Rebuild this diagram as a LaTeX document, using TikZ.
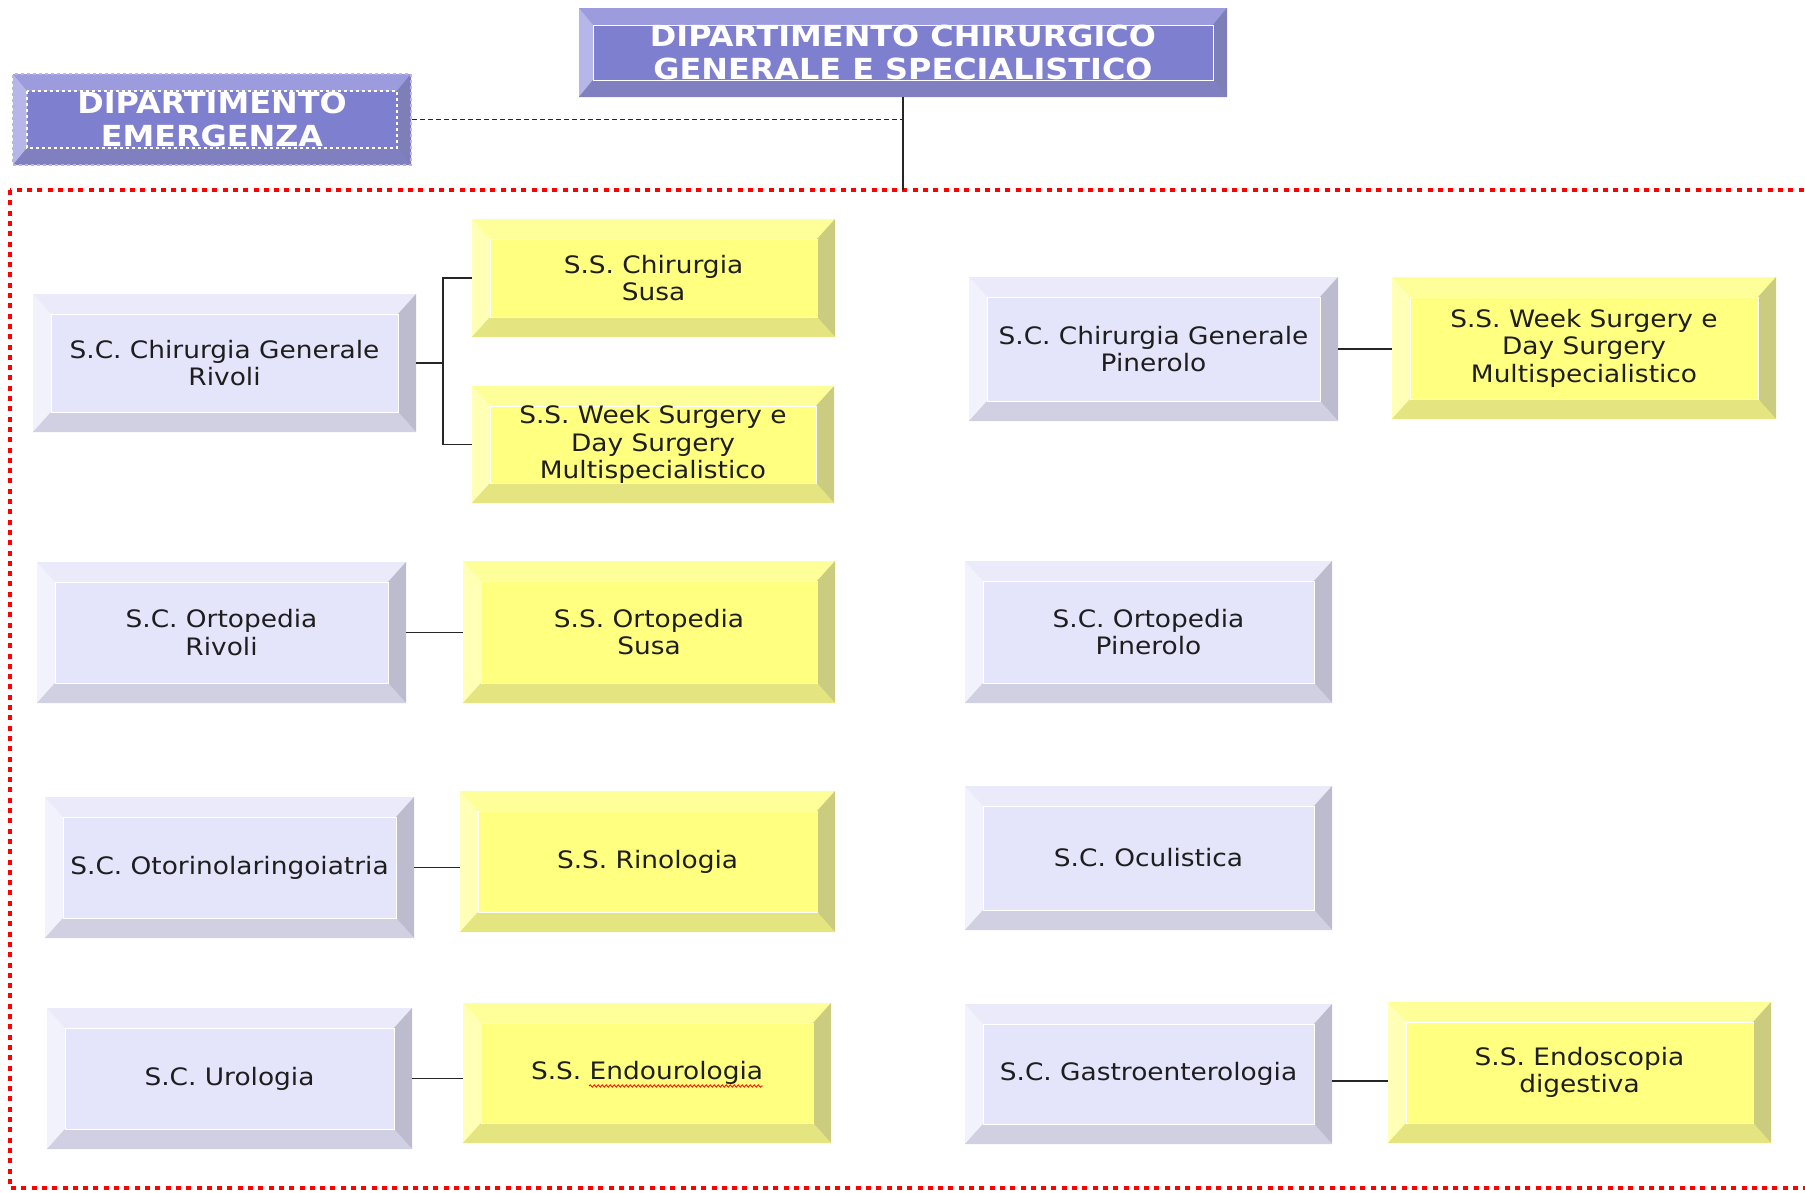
\documentclass[tikz,border=0pt]{standalone}
\usepackage{fontspec}
\setmainfont{DejaVu Sans}[FakeStretch=1.1]
\usepackage{xcolor}
\usepackage{tikz}
\usetikzlibrary{positioning, decorations.pathmorphing}

\definecolor{scface}{RGB}{228,228,250}
\definecolor{sctop}{RGB}{234,234,250}
\definecolor{scleft}{RGB}{242,242,253}
\definecolor{scright}{RGB}{188,188,206}
\definecolor{scbottom}{RGB}{208,208,226}
\definecolor{ssface}{RGB}{255,255,128}
\definecolor{sstop}{RGB}{255,255,153}
\definecolor{ssleft}{RGB}{255,255,182}
\definecolor{ssright}{RGB}{204,204,128}
\definecolor{ssbottom}{RGB}{228,228,128}
\definecolor{deptface}{RGB}{127,127,208}
\definecolor{depttop}{RGB}{155,155,221}
\definecolor{deptleft}{RGB}{182,182,232}
\definecolor{deptright}{RGB}{126,126,184}
\definecolor{deptbottom}{RGB}{128,128,192}
\definecolor{labeltext}{RGB}{30,30,30}

% bevelled box faces: dx, dy, top, left, right, bottom
\newcommand{\bevelfaces}[6]{%
  \coordinate (bNW) at (path picture bounding box.north west);
  \coordinate (bNE) at (path picture bounding box.north east);
  \coordinate (bSW) at (path picture bounding box.south west);
  \coordinate (bSE) at (path picture bounding box.south east);
  \coordinate (iNW) at ([xshift=#1,yshift=-#2]bNW);
  \coordinate (iNE) at ([xshift=-#1,yshift=-#2]bNE);
  \coordinate (iSW) at ([xshift=#1,yshift=#2]bSW);
  \coordinate (iSE) at ([xshift=-#1,yshift=#2]bSE);
  \fill[#3] (bNW) -- (bNE) -- (iNE) -- (iNW) -- cycle;
  \fill[#4] (bNW) -- (iNW) -- (iSW) -- (bSW) -- cycle;
  \fill[#5] (bNE) -- (bSE) -- (iSE) -- (iNE) -- cycle;
  \fill[#6] (bSW) -- (iSW) -- (iSE) -- (bSE) -- cycle;
  \draw[inneredge] (iNW) rectangle (iSE);
}
\tikzset{inneredge/.style={white, line width=0.9pt}}

\tikzstyle{scblock} = [rectangle, minimum width=367pt, minimum height=141pt, inner sep=0pt, align=center, fill=scface, text=labeltext, font=\fontsize{24}{27.6}\selectfont, path picture={\bevelfaces{18pt}{20pt}{sctop}{scleft}{scright}{scbottom}}]
\tikzstyle{ssblock} = [rectangle, minimum width=370pt, minimum height=141pt, inner sep=0pt, align=center, fill=ssface, text=labeltext, font=\fontsize{24}{27.6}\selectfont, path picture={\bevelfaces{18pt}{20pt}{sstop}{ssleft}{ssright}{ssbottom}}]
\tikzstyle{deptblock} = [rectangle, inner sep=0pt, align=center, fill=deptface, text=white, font=\bfseries\fontsize{29}{33}\selectfont, path picture={\bevelfaces{14pt}{17pt}{depttop}{deptleft}{deptright}{deptbottom}}]
\tikzstyle{link} = [line width=1.5pt, draw=black!85]

\begin{document}
\begin{tikzpicture}[x=1pt, y=-1pt]
\useasboundingbox (0,0) rectangle (1805,1192);

% Departments
\node [deptblock, minimum width=648pt, minimum height=89pt] (dipChir) at (903,52.5) {DIPARTIMENTO CHIRURGICO\\GENERALE E SPECIALISTICO};
\node [deptblock, minimum width=398pt, minimum height=91pt, draw=deptleft, dashed, line width=1.2pt, inneredge/.append style={dashed, line width=1.2pt}] (dipEmerg) at (212,119.5) {DIPARTIMENTO\\EMERGENZA};

% Frame
\draw [red, line width=3.5pt, dash pattern=on 5pt off 5.3pt] (10,190) rectangle (1840,1188);
\coordinate (frametop) at (903,190);
\draw [line width=1.2pt, black!85] (dipChir.south) -- (frametop);
\draw [line width=1.2pt, black!85, dash pattern=on 5pt off 3pt] (dipEmerg.east) -- (dipEmerg.east -| dipChir.south);

% Left column
\node [scblock, minimum width=383pt, minimum height=138pt] (scChirRivoli) at (224.5,363) {S.C. Chirurgia Generale\\Rivoli};
\node [scblock, minimum width=369pt] (scOrtRivoli) at (221.5,632.5) {S.C. Ortopedia\\Rivoli};
\node [scblock, minimum width=369pt] (scOtorino) at (229.5,867.5) {S.C. Otorinolaringoiatria};
\node [scblock, minimum width=365pt] (scUrologia) at (229.5,1078.5) {S.C. Urologia};

% Simple structures
\node [ssblock, minimum width=363pt, minimum height=118pt] (ssChirSusa) at (653.5,278) {S.S. Chirurgia\\Susa};
\node [ssblock, minimum width=362pt, minimum height=117pt] (ssWeekRivoli) at (653,444.5) {S.S. Week Surgery e\\Day Surgery\\Multispecialistico};
\node [ssblock, minimum width=372pt, minimum height=142pt] (ssOrtSusa) at (649,632) {S.S. Ortopedia\\Susa};
\node [ssblock, minimum width=375pt] (ssRinologia) at (647.5,861.5) {S.S. Rinologia};
\node [ssblock, minimum width=368pt, minimum height=140pt] (ssEndouro) at (647,1073) {S.S. Endourologia};

% Right column
\node [scblock, minimum width=369pt, minimum height=144pt] (scChirPinerolo) at (1153.5,349) {S.C. Chirurgia Generale\\Pinerolo};
\node [scblock, minimum height=142pt] (scOrtPinerolo) at (1148.5,632) {S.C. Ortopedia\\Pinerolo};
\node [scblock, minimum height=144pt] (scOculistica) at (1148.5,858) {S.C. Oculistica};
\node [scblock, minimum height=140pt] (scGastro) at (1148.5,1074) {S.C. Gastroenterologia};
\node [ssblock, minimum width=384pt, minimum height=142pt] (ssWeekPinerolo) at (1584,348) {S.S. Week Surgery e\\Day Surgery\\Multispecialistico};
\node [ssblock, minimum width=383pt] (ssEndoscopia) at (1579.5,1072.5) {S.S. Endoscopia\\digestiva};

% Links
\coordinate (fork) at (443,363);
\draw [link] (scChirRivoli.east) -- (fork);
\draw [link] (ssChirSusa.west) -| (fork) |- (ssWeekRivoli.west);
\draw [link] (scChirPinerolo.east) -- (scChirPinerolo.east -| ssWeekPinerolo.west);
\draw [link] (scOrtRivoli.east) -- (scOrtRivoli.east -| ssOrtSusa.west);
\draw [link] (scOtorino.east) -- (scOtorino.east -| ssRinologia.west);
\draw [link] (scUrologia.east) -- (scUrologia.east -| ssEndouro.west);
\draw [link] ([yshift=-7pt]scGastro.east) -- ([yshift=-7pt]scGastro.east -| ssEndoscopia.west);

% spelling mark
\draw [red, line width=0.8pt, decorate, decoration={snake, amplitude=1.2pt, segment length=4pt}] ([xshift=-58pt,yshift=-13pt]ssEndouro.center) -- ([xshift=116pt,yshift=-13pt]ssEndouro.center);
\end{tikzpicture}
\end{document}
